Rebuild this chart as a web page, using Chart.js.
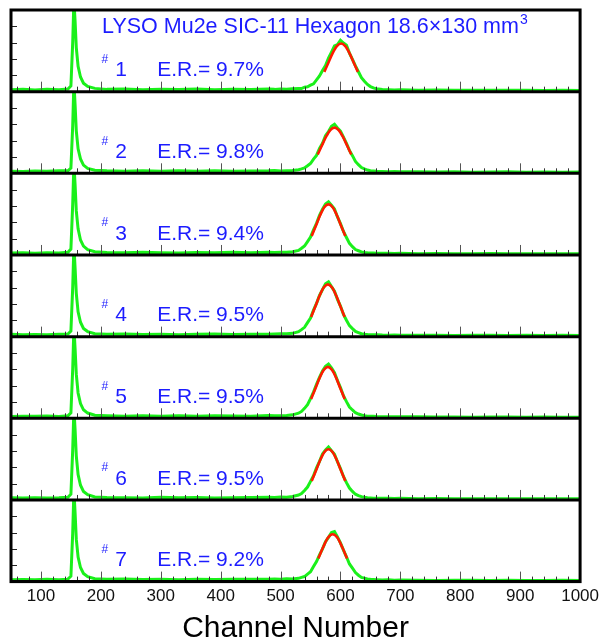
<!DOCTYPE html>
<html>
<head>
<meta charset="utf-8">
<script src="https://cdn.jsdelivr.net/npm/chart.js@4.4.1/dist/chart.umd.min.js"></script>
<style>
  html, body { margin: 0; padding: 0; background: #fff; }
</style>
</head>
<body>
<canvas id="lyso" width="604" height="641"></canvas>
<script>
// channel grid shared by all seven spectra
const chan = [50, 70, 90, 110, 130, 145, 150, 153, 155, 157, 159, 162, 166, 171, 178,
  190, 210, 240, 270, 300, 330, 360, 390, 420, 450,
  480, 490, 500, 510, 520, 530, 535, 540, 545, 550, 555, 560, 565, 570, 575, 580, 585, 590, 595,
  600, 605, 610, 615, 620, 625, 630, 635, 640, 645, 650, 655, 660, 670,
  680, 690, 700, 730, 760, 790, 820, 850, 880, 910, 940, 970, 1000];

const cnt1 = [0.12, 0.15, 0.10, 0.14, 0.12, 0.16, 0.35, 3.0, 5.6, 4.3, 2.7, 1.55, 0.9, 0.52, 0.32,
  0.2, 0.14, 0.17, 0.12, 0.15, 0.13, 0.16, 0.12, 0.15, 0.13,
  0.16, 0.14, 0.17, 0.15, 0.18, 0.2, 0.19, 0.27, 0.3, 0.4, 0.48, 0.72, 0.96, 1.3, 1.6, 2.05, 2.42, 2.8, 2.88,
  3.15, 2.98, 2.84, 2.36, 1.98, 1.58, 1.22, 0.86, 0.64, 0.44, 0.31, 0.23, 0.18, 0.13,
  0.12, 0.1, 0.11, 0.09, 0.1, 0.08, 0.09, 0.08, 0.09, 0.08, 0.07, 0.08, 0.07];
const cnt2 = [0.13, 0.11, 0.14, 0.12, 0.15, 0.15, 0.32, 2.9, 5.6, 4.2, 2.6, 1.5, 0.88, 0.5, 0.3,
  0.19, 0.15, 0.13, 0.16, 0.12, 0.15, 0.13, 0.16, 0.12, 0.14,
  0.15, 0.17, 0.14, 0.16, 0.17, 0.22, 0.27, 0.33, 0.46, 0.6, 0.87, 1.1, 1.52, 1.84, 2.3, 2.56, 2.88, 3.0, 2.78,
  2.58, 2.22, 1.84, 1.4, 1.08, 0.73, 0.53, 0.35, 0.27, 0.2, 0.16, 0.14, 0.12, 0.11,
  0.1, 0.11, 0.09, 0.1, 0.08, 0.09, 0.07, 0.08, 0.09, 0.07, 0.08, 0.07, 0.08];
const cnt3 = [0.12, 0.14, 0.11, 0.13, 0.12, 0.17, 0.36, 3.1, 5.6, 4.3, 2.7, 1.6, 0.92, 0.54, 0.33,
  0.2, 0.15, 0.13, 0.16, 0.14, 0.12, 0.15, 0.13, 0.16, 0.14,
  0.16, 0.15, 0.17, 0.16, 0.2, 0.28, 0.41, 0.55, 0.82, 1.1, 1.54, 1.94, 2.42, 2.8, 3.12, 3.26, 3.04, 2.82, 2.33,
  1.92, 1.44, 1.07, 0.71, 0.51, 0.33, 0.26, 0.19, 0.15, 0.13, 0.12, 0.12, 0.11, 0.1,
  0.11, 0.09, 0.1, 0.08, 0.09, 0.08, 0.07, 0.09, 0.07, 0.08, 0.07, 0.08, 0.07];
const cnt4 = [0.14, 0.12, 0.13, 0.11, 0.14, 0.16, 0.34, 3.0, 5.6, 4.2, 2.65, 1.52, 0.88, 0.5, 0.31,
  0.18, 0.14, 0.16, 0.13, 0.15, 0.12, 0.14, 0.16, 0.13, 0.15,
  0.15, 0.16, 0.17, 0.18, 0.2, 0.3, 0.43, 0.57, 0.86, 1.14, 1.62, 2.03, 2.52, 2.88, 3.24, 3.36, 3.06, 2.78, 2.28,
  1.87, 1.36, 1.0, 0.67, 0.49, 0.32, 0.25, 0.18, 0.15, 0.13, 0.12, 0.11, 0.12, 0.1,
  0.09, 0.1, 0.09, 0.08, 0.09, 0.07, 0.08, 0.08, 0.07, 0.08, 0.07, 0.08, 0.07];
const cnt5 = [0.11, 0.13, 0.12, 0.14, 0.11, 0.15, 0.33, 3.0, 5.6, 4.25, 2.7, 1.55, 0.9, 0.52, 0.32,
  0.19, 0.16, 0.13, 0.15, 0.13, 0.16, 0.12, 0.15, 0.14, 0.13,
  0.17, 0.15, 0.16, 0.17, 0.21, 0.31, 0.42, 0.61, 0.84, 1.2, 1.6, 2.08, 2.5, 2.9, 3.18, 3.32, 3.08, 2.8, 2.31,
  1.88, 1.38, 1.02, 0.69, 0.51, 0.34, 0.26, 0.2, 0.16, 0.13, 0.12, 0.12, 0.11, 0.1,
  0.1, 0.09, 0.1, 0.09, 0.08, 0.08, 0.07, 0.08, 0.08, 0.07, 0.08, 0.07, 0.07];
const cnt6 = [0.13, 0.12, 0.14, 0.12, 0.13, 0.16, 0.35, 3.05, 5.6, 4.3, 2.7, 1.55, 0.9, 0.52, 0.32,
  0.18, 0.15, 0.14, 0.12, 0.16, 0.13, 0.15, 0.12, 0.14, 0.15,
  0.16, 0.15, 0.18, 0.17, 0.21, 0.3, 0.39, 0.58, 0.79, 1.14, 1.48, 1.97, 2.36, 2.82, 3.06, 3.24, 3.02, 2.8, 2.34,
  1.92, 1.44, 1.06, 0.73, 0.52, 0.35, 0.27, 0.2, 0.16, 0.13, 0.12, 0.11, 0.1, 0.11,
  0.1, 0.09, 0.1, 0.08, 0.09, 0.07, 0.08, 0.07, 0.08, 0.07, 0.08, 0.07, 0.07];
const cnt7 = [0.12, 0.13, 0.11, 0.14, 0.12, 0.15, 0.33, 2.95, 5.6, 4.2, 2.6, 1.5, 0.86, 0.5, 0.3,
  0.18, 0.14, 0.16, 0.13, 0.15, 0.12, 0.14, 0.13, 0.15, 0.14,
  0.15, 0.16, 0.15, 0.17, 0.16, 0.2, 0.26, 0.31, 0.46, 0.6, 0.92, 1.23, 1.64, 2.0, 2.44, 2.71, 3.0, 3.06, 2.74,
  2.37, 1.93, 1.52, 1.08, 0.82, 0.55, 0.39, 0.26, 0.21, 0.16, 0.14, 0.13, 0.12, 0.1,
  0.11, 0.09, 0.1, 0.08, 0.07, 0.08, 0.08, 0.07, 0.08, 0.07, 0.07, 0.08, 0.07];

// gaussian fit curves (red)
const fitCh1 = [573, 580, 587, 594, 601, 608, 615, 622, 629];
const fit1 = [1.21, 1.79, 2.36, 2.79, 2.95, 2.79, 2.36, 1.79, 1.21];
const fitCh2 = [562, 569, 576, 583, 590, 597, 604, 611, 618];
const fit2 = [1.15, 1.7, 2.24, 2.65, 2.8, 2.65, 2.24, 1.7, 1.15];
const fitCh3 = [552, 559, 566, 573, 580, 587, 594, 601, 608];
const fit3 = [1.16, 1.79, 2.43, 2.92, 3.1, 2.92, 2.43, 1.79, 1.16];
const fitCh4 = [551, 558, 565, 572, 579, 586, 593, 600, 607];
const fit4 = [1.2, 1.84, 2.5, 3.01, 3.2, 3.01, 2.5, 1.84, 1.2];
const fitCh5 = [551, 558, 565, 572, 579, 586, 593, 600, 607];
const fit5 = [1.18, 1.81, 2.46, 2.96, 3.15, 2.96, 2.46, 1.81, 1.18];
const fitCh6 = [552, 559, 566, 573, 580, 587, 594, 601, 608];
const fit6 = [1.16, 1.79, 2.43, 2.92, 3.1, 2.92, 2.43, 1.79, 1.16];
const fitCh7 = [563, 571, 579, 587, 595, 603, 611];
const fit7 = [1.41, 2.1, 2.68, 2.9, 2.68, 2.1, 1.41];

const crystals = ['1', '2', '3', '4', '5', '6', '7'];
const resolutions = ['9.7%', '9.8%', '9.4%', '9.5%', '9.5%', '9.5%', '9.2%'];
const xTickLabels = [100, 200, 300, 400, 500, 600, 700, 800, 900, 1000];
const titleText = 'LYSO Mu2e SIC-11 Hexagon 18.6\u00d7130 mm';

const spectra = [cnt1, cnt2, cnt3, cnt4, cnt5, cnt6, cnt7];
const fitX = [fitCh1, fitCh2, fitCh3, fitCh4, fitCh5, fitCh6, fitCh7];
const fitY = [fit1, fit2, fit3, fit4, fit5, fit6, fit7];

const BLUE = '#1c1cff';
const FONT = '"Liberation Sans", Arial, sans-serif';

const datasets = [];
spectra.forEach((cnt, i) => {
  datasets.push({
    data: chan.map((c, j) => ({ x: c, y: cnt[j] })),
    yAxisID: 'y' + (i + 1),
    borderColor: '#1af01a',
    borderWidth: 3,
    pointRadius: 0,
    tension: 0,
    order: 2
  });
  datasets.push({
    data: fitX[i].map((c, j) => ({ x: c, y: fitY[i][j] })),
    yAxisID: 'y' + (i + 1),
    borderColor: '#ff1a00',
    borderWidth: 2.6,
    pointRadius: 0,
    cubicInterpolationMode: 'monotone',
    order: 1
  });
});

const scales = {
  x: {
    type: 'linear',
    min: 50,
    max: 1000,
    grid: { display: false, drawTicks: false },
    border: { display: false },
    afterBuildTicks: (axis) => { axis.ticks = xTickLabels.map(v => ({ value: v })); },
    ticks: {
      color: '#111',
      padding: 5,
      maxRotation: 0,
      callback: (v) => String(v),
      font: { family: FONT, size: 17 }
    },
    title: {
      display: true,
      text: 'Channel Number',
      color: '#000',
      padding: { top: 5, bottom: 0 },
      font: { family: FONT, size: 30, lineHeight: 0.8 }
    }
  }
};
// bottom panel first: the last left-stacked axis ends up on top
for (let k = 7; k >= 1; k--) {
  scales['y' + k] = {
    type: 'linear',
    position: 'left',
    stack: 'panels',
    stackWeight: 1,
    min: 0,
    max: 5,
    ticks: { display: false },
    grid: { display: false, drawTicks: false },
    border: { display: false }
  };
}

const panelDeco = {
  id: 'panelDeco',
  afterDatasetsDraw(chart) {
    const ctx = chart.ctx;
    const xs = chart.scales.x;
    const area = chart.chartArea;
    ctx.save();
    for (let k = 1; k <= 7; k++) {
      const ys = chart.scales['y' + k];
      const bot = ys.getPixelForValue(0);
      // channel ticks along each panel floor
      for (let v = 60; v < 1000; v += 20) {
        const px = xs.getPixelForValue(v);
        const major = v % 100 === 0;
        ctx.strokeStyle = major ? '#555' : '#333';
        ctx.lineWidth = 1;
        ctx.beginPath();
        ctx.moveTo(Math.round(px) + 0.5, bot);
        ctx.lineTo(Math.round(px) + 0.5, bot - (major ? 10 : 5));
        ctx.stroke();
      }
      // count ticks on the left edge
      for (let v = 1; v < 5; v++) {
        const py = Math.round(ys.getPixelForValue(v)) + 0.5;
        ctx.strokeStyle = '#222';
        ctx.beginPath();
        ctx.moveTo(area.left, py);
        ctx.lineTo(area.left + 6, py);
        ctx.stroke();
      }
      // separator
      ctx.strokeStyle = '#000';
      ctx.lineWidth = 3;
      ctx.beginPath();
      ctx.moveTo(area.left, bot);
      ctx.lineTo(area.right, bot);
      ctx.stroke();

      // labels
      ctx.fillStyle = BLUE;
      ctx.textBaseline = 'alphabetic';
      ctx.font = '12px ' + FONT;
      ctx.fillText('#', xs.getPixelForValue(201), ys.getPixelForValue(1.75));
      ctx.font = '21px ' + FONT;
      ctx.fillText(crystals[k - 1], xs.getPixelForValue(224), ys.getPixelForValue(0.94));
      ctx.fillText('E.R.= ' + resolutions[k - 1], xs.getPixelForValue(294), ys.getPixelForValue(0.94));
    }
    // title with superscript
    const y1 = chart.scales.y1;
    const tx = xs.getPixelForValue(202);
    const ty = y1.getPixelForValue(3.62);
    ctx.font = '21.5px ' + FONT;
    ctx.fillText(titleText, tx, ty);
    const w = ctx.measureText(titleText).width;
    ctx.font = '14px ' + FONT;
    ctx.fillText('3', tx + w + 1, ty - 9);

    // outer frame
    ctx.strokeStyle = '#000';
    ctx.lineWidth = 3;
    ctx.strokeRect(area.left, area.top, area.right - area.left, area.bottom - area.top);
    ctx.restore();
  }
};

new Chart(document.getElementById('lyso'), {
  type: 'line',
  data: { datasets: datasets },
  options: {
    responsive: false,
    animation: false,
    events: [],
    layout: { padding: { left: 11, right: 23, top: 10, bottom: 0 } },
    plugins: { legend: { display: false }, tooltip: { enabled: false } },
    scales: scales
  },
  plugins: [panelDeco]
});
</script>
</body>
</html>
